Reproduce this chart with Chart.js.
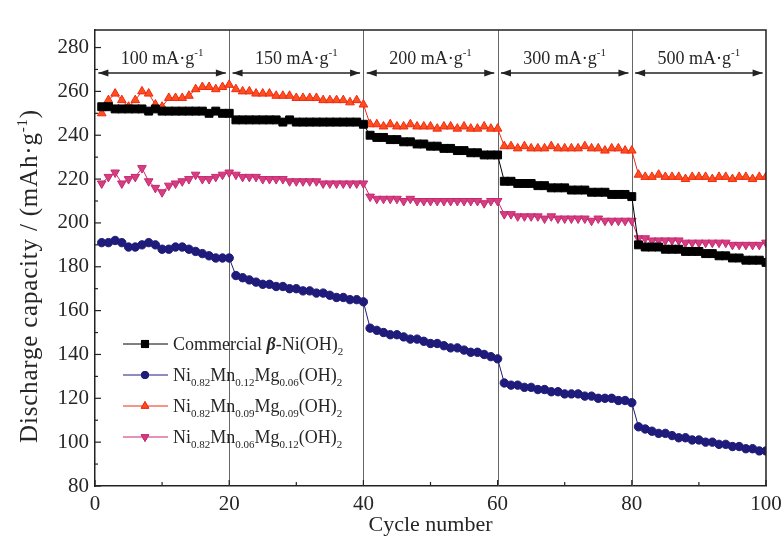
<!DOCTYPE html>
<html>
<head>
<meta charset="utf-8">
<script src="https://cdn.jsdelivr.net/npm/chart.js@4.4.1/dist/chart.umd.min.js"></script>
<style>
  html, body { margin: 0; padding: 0; background: #fff; }
  #chart { display: block; }
</style>
</head>
<body>
<canvas id="chart" width="781" height="542"></canvas>
<script>
// cycle numbers 1..100 (category positions on the x axis)
const cycles = Array.from({ length: 100 }, (_, i) => i + 1);

const seriesNames = [
    'Commercial *β*-Ni(OH)_{2}',
    'Ni_{0.82}Mn_{0.12}Mg_{0.06}(OH)_{2}',
    'Ni_{0.82}Mn_{0.09}Mg_{0.09}(OH)_{2}',
    'Ni_{0.82}Mn_{0.06}Mg_{0.12}(OH)_{2}'
];

// discharge capacity, mAh/g (20 cycles per row)
const commercial = [
    253, 253, 252, 252, 252, 252, 252, 251, 252, 251, 251, 251, 251, 251, 251, 251, 250, 251, 250, 250,
    247, 247, 247, 247, 247, 247, 247, 246, 247, 246, 246, 246, 246, 246, 246, 246, 246, 246, 246, 245,
    240, 239, 239, 238, 238, 237, 237, 236, 236, 235, 235, 234, 234, 233, 233, 232, 232, 231, 231, 231,
    219, 219, 218, 218, 218, 217, 217, 216, 216, 216, 215, 215, 215, 214, 214, 214, 213, 213, 213, 212,
    190, 189, 189, 189, 188, 188, 188, 187, 187, 187, 186, 186, 185, 185, 184, 184, 183, 183, 183, 182
];
const mn12mg06 = [
    191, 191, 192, 191, 189, 189, 190, 191, 190, 188, 188, 189, 189, 188, 187, 186, 185, 184, 184, 184,
    176, 175, 174, 173, 172, 172, 171, 171, 170, 170, 169, 169, 168, 168, 167, 166, 166, 165, 165, 164,
    152, 151, 150, 149, 149, 148, 147, 147, 146, 145, 145, 144, 143, 143, 142, 141, 141, 140, 139, 138,
    127, 126, 126, 125, 125, 124, 124, 123, 123, 122, 122, 122, 121, 121, 120, 120, 120, 119, 119, 118,
    107, 106, 105, 104, 104, 103, 102, 102, 101, 101, 100, 100, 99, 99, 98, 98, 97, 97, 96, 96
];
const mn09mg09 = [
    250, 256, 259, 256, 253, 256, 260, 259, 254, 253, 257, 257, 257, 258, 261, 262, 262, 261, 262, 263,
    261, 260, 260, 259, 259, 259, 258, 258, 258, 257, 257, 257, 257, 256, 256, 256, 256, 255, 256, 254,
    245, 245, 244, 245, 244, 244, 245, 244, 244, 244, 243, 244, 244, 243, 244, 243, 243, 244, 243, 243,
    235, 235, 234, 235, 234, 234, 234, 235, 234, 234, 234, 234, 235, 234, 234, 233, 234, 234, 233, 233,
    222, 221, 221, 222, 221, 221, 221, 220, 221, 221, 221, 220, 221, 221, 220, 221, 221, 220, 221, 221
];
const mn06mg12 = [
    218, 221, 223, 218, 220, 221, 225, 219, 216, 214, 217, 218, 219, 220, 222, 220, 220, 221, 222, 223,
    222, 221, 221, 221, 220, 220, 220, 220, 219, 219, 219, 219, 219, 218, 218, 218, 218, 218, 218, 218,
    212, 211, 211, 211, 211, 210, 211, 210, 210, 210, 210, 210, 210, 210, 210, 210, 210, 209, 210, 210,
    204, 204, 203, 203, 203, 203, 202, 203, 202, 202, 202, 202, 202, 201, 202, 201, 201, 201, 201, 201,
    193, 193, 192, 192, 192, 192, 192, 191, 191, 191, 191, 191, 191, 191, 190, 190, 190, 190, 190, 191
];

// current-density steps along the top of the plot
const rateLabels = ['100 mA·g^{-1}', '150 mA·g^{-1}', '200 mA·g^{-1}', '300 mA·g^{-1}', '500 mA·g^{-1}'];
const stepBounds = [0, 20, 40, 60, 80, 100];

const xTicks = [0, 20, 40, 60, 80, 100];
const yTicks = [80, 100, 120, 140, 160, 180, 200, 220, 240, 260, 280];

const SERIF = '"Liberation Serif", "Times New Roman", serif';
const TEXT = '#262626';

const styles = [
    { color: '#000000', fill: '#000000', point: 'rect', radius: 5.6, rotation: 0 },
    { color: '#1f1b7a', fill: '#1f1b7a', point: 'circle', radius: 4.2, rotation: 0 },
    { color: '#ee2a12', fill: '#ff4f1e', point: 'triangle', radius: 5, rotation: 0 },
    { color: '#c8286e', fill: '#d43f84', point: 'triangle', radius: 5, rotation: 180 }
];
const seriesValues = [commercial, mn12mg06, mn09mg09, mn06mg12];

// text with _{sub}, ^{sup} and *italic* pieces
function parseRich(str) {
    return str.split(/(_\{[^}]*\}|\^\{[^}]*\}|\*[^*]+\*)/).filter(Boolean).map(s => {
        if (s.startsWith('_{')) return { text: s.slice(2, -1), mode: 'sub' };
        if (s.startsWith('^{')) return { text: s.slice(2, -1), mode: 'sup' };
        if (s.startsWith('*')) return { text: s.slice(1, -1), mode: 'italic' };
        return { text: s, mode: 'normal' };
    });
}

function drawRich(ctx, str, x, y, size, align) {
    const parts = parseRich(str);
    const fontFor = p => {
        const small = p.mode === 'sub' || p.mode === 'sup';
        return (p.mode === 'italic' ? 'italic bold ' : '') + (small ? Math.round(size * 0.6) : size) + 'px ' + SERIF;
    };
    let total = 0;
    parts.forEach(p => { ctx.font = fontFor(p); p.w = ctx.measureText(p.text).width; total += p.w; });
    let cx = align === 'center' ? x - total / 2 : x;
    ctx.textAlign = 'left';
    ctx.textBaseline = 'alphabetic';
    parts.forEach(p => {
        ctx.font = fontFor(p);
        const dy = p.mode === 'sub' ? size * 0.25 : p.mode === 'sup' ? -size * 0.4 : 0;
        ctx.fillText(p.text, cx, y + dy);
        cx += p.w;
    });
}

function arrowHead(ctx, x, y, dir) {
    ctx.beginPath();
    ctx.moveTo(x, y);
    ctx.lineTo(x - dir * 10, y - 3.5);
    ctx.lineTo(x - dir * 10, y + 3.5);
    ctx.closePath();
    ctx.fill();
}

const decorPlugin = {
    id: 'decor',
    beforeDatasetsDraw(chart) {
        const { ctx, chartArea: a, scales: { x } } = chart;
        ctx.save();
        ctx.strokeStyle = '#666';
        ctx.lineWidth = 1;
        stepBounds.slice(1, -1).forEach(v => {
            const px = Math.round(x.getPixelForValue(v)) + 0.5;
            ctx.beginPath();
            ctx.moveTo(px, a.top);
            ctx.lineTo(px, a.bottom);
            ctx.stroke();
        });
        ctx.restore();
    },
    afterDraw(chart) {
        const { ctx, chartArea: a, scales: { x, y } } = chart;
        ctx.save();

        // frame top and right
        ctx.strokeStyle = '#222';
        ctx.lineWidth = 1.5;
        ctx.beginPath();
        ctx.moveTo(a.left, a.top);
        ctx.lineTo(a.right, a.top);
        ctx.lineTo(a.right, a.bottom);
        ctx.stroke();

        // inward ticks
        ctx.lineWidth = 1.2;
        for (let v = 80; v <= 280; v += 10) {
            const py = y.getPixelForValue(v);
            const len = v % 20 === 0 ? 6 : 3;
            ctx.beginPath();
            ctx.moveTo(a.left, py);
            ctx.lineTo(a.left + len, py);
            ctx.stroke();
        }
        for (let v = 0; v <= 100; v += 10) {
            const px = x.getPixelForValue(v);
            const len = v % 20 === 0 ? 6 : 4;
            ctx.beginPath();
            ctx.moveTo(px, a.bottom);
            ctx.lineTo(px, a.bottom - len);
            ctx.stroke();
        }

        // rate arrows and labels
        const ay = y.getPixelForValue(268.4);
        const ly = y.getPixelForValue(275.4);
        ctx.fillStyle = '#222';
        ctx.lineWidth = 1.5;
        rateLabels.forEach((label, i) => {
            const x0 = x.getPixelForValue(stepBounds[i] + 0.5);
            const x1 = x.getPixelForValue(stepBounds[i + 1] - 0.5);
            ctx.beginPath();
            ctx.moveTo(x0, ay);
            ctx.lineTo(x1, ay);
            ctx.stroke();
            arrowHead(ctx, x0, ay, -1);
            arrowHead(ctx, x1, ay, 1);
            ctx.fillStyle = TEXT;
            drawRich(ctx, label, (x0 + x1) / 2, ly + 6, 18, 'center');
            ctx.fillStyle = '#222';
        });

        // legend, lower left inside the plot
        const lx = a.left + 28;
        seriesNames.forEach((name, i) => {
            const s = styles[i];
            const cy = a.top + 314 + i * 31;
            ctx.strokeStyle = s.color;
            ctx.lineWidth = 1;
            ctx.beginPath();
            ctx.moveTo(lx, cy);
            ctx.lineTo(lx + 45, cy);
            ctx.stroke();
            Chart.helpers.drawPoint(ctx, {
                pointStyle: s.point, radius: s.radius - 0.6, rotation: s.rotation, borderWidth: 1
            }, lx + 22, cy);
            ctx.fillStyle = s.fill;
            ctx.strokeStyle = s.color;
            ctx.fill();
            ctx.stroke();
            ctx.fillStyle = TEXT;
            drawRich(ctx, name, lx + 50, cy + 6, 18, 'left');
        });

        // y axis title
        ctx.translate(28, 276);
        ctx.rotate(-Math.PI / 2);
        ctx.fillStyle = TEXT;
        if ('letterSpacing' in ctx) ctx.letterSpacing = '0.8px';
        drawRich(ctx, 'Discharge capacity / (mAh·g^{-1})', 0, 8.5, 25, 'center');
        ctx.restore();

        // x axis title
        ctx.save();
        ctx.fillStyle = TEXT;
        drawRich(ctx, 'Cycle number', (a.left + a.right) / 2, 531, 22, 'center');
        ctx.restore();
    }
};

const datasets = seriesValues.map((values, i) => ({
    label: seriesNames[i],
    data: values.map((v, k) => ({ x: cycles[k], y: v })),
    borderColor: styles[i].color,
    backgroundColor: styles[i].fill,
    pointBackgroundColor: styles[i].fill,
    pointBorderColor: styles[i].color,
    pointStyle: styles[i].point,
    pointRadius: styles[i].radius,
    pointRotation: styles[i].rotation,
    pointBorderWidth: 1,
    borderWidth: 1,
    tension: 0,
    fill: false
}));

new Chart(document.getElementById('chart'), {
    type: 'line',
    data: { datasets: datasets },
    options: {
        responsive: false,
        animation: false,
        devicePixelRatio: 1,
        layout: { padding: { top: 30, right: 15, left: 0, bottom: 0 } },
        plugins: {
            legend: { display: false },
            tooltip: { enabled: false }
        },
        scales: {
            x: {
                type: 'linear',
                min: 0,
                max: 100,
                afterBuildTicks: scale => { scale.ticks = xTicks.map(v => ({ value: v })); },
                afterFit: scale => {
                    scale.height = 56;
                    scale.paddingLeft = 0;
                    scale.paddingRight = 0;
                },
                grid: { drawOnChartArea: false, drawTicks: false },
                border: { display: true, color: '#222', width: 1.5 },
                ticks: { color: TEXT, font: { family: SERIF, size: 21 }, padding: 6, maxRotation: 0 }
            },
            y: {
                type: 'linear',
                min: 80,
                max: 288,
                afterBuildTicks: scale => { scale.ticks = yTicks.map(v => ({ value: v })); },
                afterFit: scale => {
                    scale.width = 95;
                    scale.paddingTop = 0;
                    scale.paddingBottom = 0;
                },
                grid: { drawOnChartArea: false, drawTicks: false },
                border: { display: true, color: '#222', width: 1.5 },
                ticks: { color: TEXT, font: { family: SERIF, size: 21 }, padding: 6 }
            }
        }
    },
    plugins: [decorPlugin]
});
</script>
</body>
</html>
